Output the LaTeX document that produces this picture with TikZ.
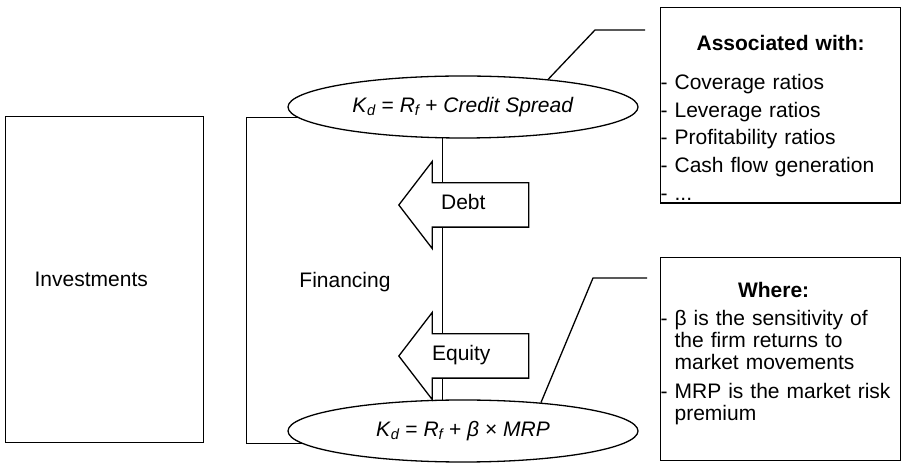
\documentclass[tikz,border=0pt]{standalone}
\usepackage{fontspec}
\setmainfont{Liberation Sans}
\usetikzlibrary{shapes.geometric,shapes.arrows,backgrounds}
\setlength{\parindent}{0pt}
\newcommand{\lowidx}[1]{\textsubscript{\itshape #1}}

\begin{document}
\begin{tikzpicture}[x=1pt, y=1pt, line width=1.3pt,
    every node/.style={font=\fontsize{21}{25}\selectfont},
    rate/.style={draw, ellipse, fill=white, minimum width=350pt, minimum height=62pt, inner sep=0pt},
    flow/.style={draw, single arrow, shape border rotate=180, fill=white, minimum height=130pt, minimum width=86pt,
                 single arrow head extend=21.5pt, single arrow tip angle=105,
                 text height=15pt, text depth=5pt, inner xsep=0pt, inner ysep=11.5pt},
    infobox/.style={draw, text width=240pt, inner xsep=0pt, inner ysep=0pt, align=left}]
  \useasboundingbox (0,0) rectangle (903,463);
  %nodes
  \node[draw, minimum width=198pt, minimum height=326pt, anchor=south west, text width=140pt, inner xsep=29pt, align=left] at (5,20) (inv) {Investments};
  \node at (345,181) (fin) {Financing};
  \node[rate] at (463,356) (kd) {\textit{K}\lowidx{d} = \textit{R}\lowidx{f} + \textit{Credit Spread}};
  \node[rate] at (463,32) (ke) {\textit{K}\lowidx{d} = \textit{R}\lowidx{f} + \textit{β} × \textit{MRP}};
  \node[flow, anchor=tip] at (398,258) (debt) {Debt\hspace*{18pt}};
  \node[flow, anchor=tip] at (398,107) (equity) {Equity\hspace*{22pt}};
  \node[infobox, anchor=north west, font=\fontsize{21}{27.7}\selectfont] at (660,456) (assoc)
    {\rule{0pt}{43pt}\makebox[\hsize]{\bfseries Associated with:}\\[11pt]
     - Coverage ratios\\
     - Leverage ratios\\
     - Profitability ratios\\
     - Cash flow generation\\
     - ...\rule[-3pt]{0pt}{0pt}};
  \node[infobox, anchor=north west, font=\fontsize{21}{22}\selectfont] at (660,206) (where)
    {\rule{0pt}{40pt}\makebox[\hsize]{\bfseries Where:\hspace{14pt}}\\[6pt]
     - β is the sensitivity of\\
     \phantom{- }the firm returns to\\
     \phantom{- }market movements\\[7pt]
     - MRP is the market risk\\
     \phantom{- }premium\rule[-40pt]{0pt}{0pt}};
  \coordinate (c1) at ([shift={(-15,-23)}]assoc.north west);
  \coordinate (c2) at ([shift={(-13,-21)}]where.north west);
  %lines
  \begin{scope}[on background layer]
    \draw ([yshift=-10pt]kd.center) -- ++(-217,0) |- ([yshift=-12pt]ke.center);
    \draw ([xshift=-21pt]kd.center) -- ([xshift=-21pt]ke.center);
  \end{scope}
  \draw (kd.18) -- ([xshift=-50pt]c1) -- (c1);
  \draw (ke.20) -- ([xshift=-54pt]c2) -- (c2);
\end{tikzpicture}
\end{document}
